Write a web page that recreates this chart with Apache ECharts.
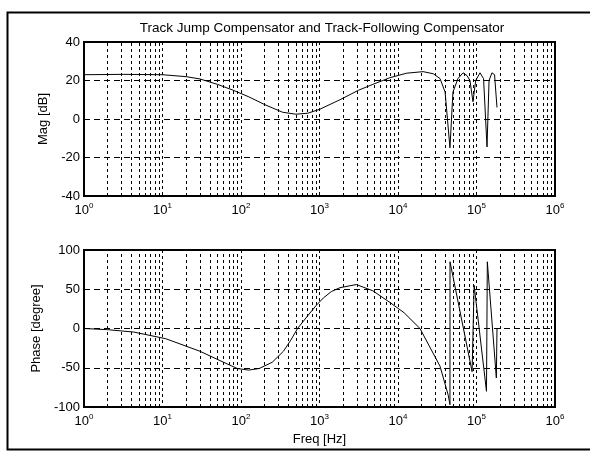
<!DOCTYPE html>
<html>
<head>
<meta charset="utf-8">
<script src="https://cdn.jsdelivr.net/npm/echarts@6/dist/echarts.min.js"></script>
<style>
html, body { margin:0; padding:0; background:#fff; }
#chart { width:590px; height:454px; }
</style>
</head>
<body>
<div id="chart"></div>
<script>
// magnitude curve (Hz, dB)
var magFreq = [1, 3.16, 10, 20, 30, 50, 79, 126, 200, 339, 501, 708, 1000, 1820, 3162, 4786, 7943,
    12880, 20890, 28180, 34280, 39810, 45920, 50120, 58080, 67300, 75860, 82600, 90160, 97720,
    110900, 123000, 136100, 144500, 157400, 169800, 182400];
var magDb = [23, 23.2, 23, 22, 20.8, 18, 15, 11.5, 7.5, 3.5, 2.5, 3, 5, 10, 15, 18, 21.5,
    23.8, 24.6, 23.5, 21, 14, -15, 14, 21, 24, 22.5, 20, 9, 20,
    24, 21, -14.5, 20, 24, 23, 6];

// phase curve (Hz, degree)
var phaseFreq = [1, 2, 4.3, 11, 30, 60, 90, 125, 170, 250, 347, 430, 525, 692, 900, 1122, 1413, 1820, 2950, 4786,
    7943, 12000, 19050, 34280, 43650, 45920, 46000, 87900, 93300, 134000, 137400, 179000, 182400];
var phaseDeg = [0, -1.5, -4.5, -13, -29, -43, -51, -53, -51, -43, -29, -15, 0, 15, 29, 39, 47, 52, 56, 48,
    33, 20, 0, -48, -85, -97, 85, -55, 55, -80, 85, -63, 0];

var xMin = 1, xMax = 1e6;
var magTicks = { min: -40, max: 40, interval: 20 };
var phaseTicks = { min: -100, max: 100, interval: 50 };

// minor grid lines at 2..9 of each decade
var minorLines = [];
for (var d = 0; d < 6; d++) {
    for (var k = 2; k <= 9; k++) {
        minorLines.push({ xAxis: k * Math.pow(10, d) });
    }
}

var font = 'Liberation Sans, Arial, sans-serif';
var gridLine = { show: true, lineStyle: { color: '#000', width: 1, type: [6, 4] } };

function xAxisOf(idx, name) {
    return {
        type: 'log', logBase: 10, gridIndex: idx, min: xMin, max: xMax, splitNumber: 6,
        name: name || '', nameLocation: 'middle', nameGap: 26,
        nameTextStyle: { color: '#000', fontSize: 13, fontFamily: font },
        axisLine: { show: true, onZero: false, lineStyle: { color: '#000', width: 2 } },
        axisTick: { show: false },
        splitLine: { show: true, lineStyle: { color: '#000', width: 1, type: [3, 3] } },
        axisLabel: {
            color: '#000', fontSize: 13, fontFamily: font, margin: 6,
            formatter: function (v) { return '10{sup|' + Math.round(Math.log10(v)) + '}'; },
            rich: { sup: { fontSize: 8, fontFamily: font, color: '#000', verticalAlign: 'top', padding: [0, 0, 8, 0] } }
        }
    };
}

function yAxisOf(idx, t, name, gap) {
    return {
        type: 'value', gridIndex: idx, min: t.min, max: t.max, interval: t.interval,
        name: name, nameLocation: 'middle', nameGap: gap, nameRotate: 90,
        nameTextStyle: { color: '#000', fontSize: 13, fontFamily: font },
        axisLine: { show: true, lineStyle: { color: '#000', width: 2 } },
        axisTick: { show: false },
        splitLine: gridLine,
        axisLabel: { color: '#000', fontSize: 13, fontFamily: font, margin: 4 }
    };
}

function markLines() {
    return {
        silent: true, symbol: 'none', animation: false,
        label: { show: false },
        lineStyle: { color: '#000', width: 1, type: [3, 3] },
        data: minorLines
    };
}

var chart = echarts.init(document.getElementById('chart'));
var option = {
    backgroundColor: '#fff',
    animation: false,
    title: {
        text: 'Track Jump Compensator and Track-Following Compensator',
        left: 317, top: 16, textAlign: 'center',
        textStyle: { color: '#000', fontSize: 13.5, fontWeight: 'normal', fontFamily: font }
    },
    graphic: [{
        type: 'rect', left: 5, top: 10,
        shape: { width: 620, height: 437 },
        style: { fill: 'none', stroke: '#000', lineWidth: 2 }
    }],
    grid: [
        { left: 84, top: 42, width: 471, height: 154, show: true, borderColor: '#000', borderWidth: 2, backgroundColor: 'transparent' },
        { left: 84, top: 250, width: 471, height: 157, show: true, borderColor: '#000', borderWidth: 2, backgroundColor: 'transparent' }
    ],
    xAxis: [xAxisOf(0), xAxisOf(1, 'Freq [Hz]')],
    yAxis: [yAxisOf(0, magTicks, 'Mag [dB]', 30), yAxisOf(1, phaseTicks, 'Phase [degree]', 38)],
    series: [
        {
            type: 'line', xAxisIndex: 0, yAxisIndex: 0, showSymbol: false,
            lineStyle: { color: '#000', width: 1 },
            data: magFreq.map(function (f, i) { return [f, magDb[i]]; }),
            markLine: markLines()
        },
        {
            type: 'line', xAxisIndex: 1, yAxisIndex: 1, showSymbol: false,
            lineStyle: { color: '#000', width: 1 },
            data: phaseFreq.map(function (f, i) { return [f, phaseDeg[i]]; }),
            markLine: markLines()
        }
    ]
};
chart.setOption(option);
</script>
</body>
</html>
